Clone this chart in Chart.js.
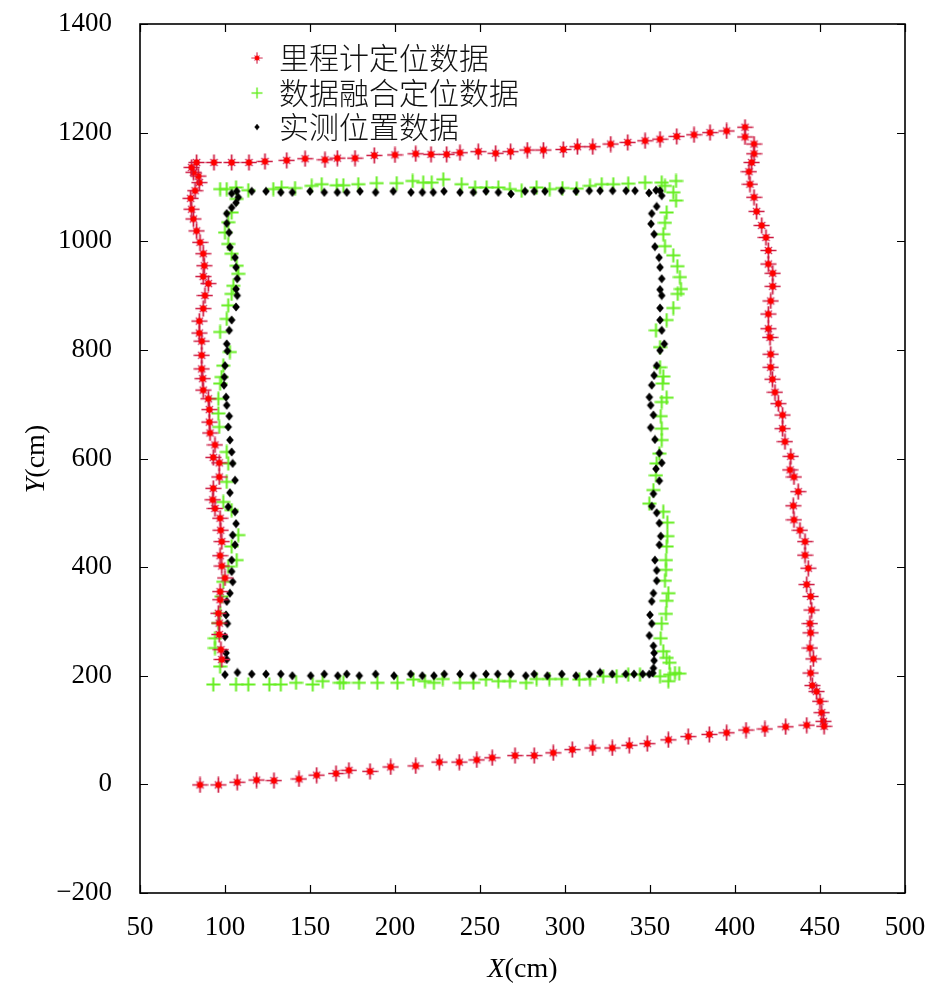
<!DOCTYPE html>
<html>
<head>
<meta charset="utf-8">
<script src="https://cdn.jsdelivr.net/npm/chart.js@4.4.1/dist/chart.umd.min.js"></script>
<style>
html,body{margin:0;padding:0;background:#fff;}
#wrap{width:946px;height:992px;position:relative;}
</style>
</head>
<body>
<div id="wrap"><canvas id="c"></canvas></div>
<script>
// ---- data (cm) ----
const seriesLabels = ['里程计定位数据', '数据融合定位数据', '实测位置数据'];
const xTicks = [50,100,150,200,250,300,350,400,450,500];
const yTicks = [-200,0,200,400,600,800,1000,1200,1400];

const redX = [98.1,97.6,96.6,96.6,96.1,97.1,97.1,100,98.1,97.1,98.1,97.5,97.1,94.1,92.8,93.1,96.6,96.6,93.1,94.1,91.2,90.8,
  90.8,90.2,87.2,86.9,86.3,86.3,86.3,84.9,84.9,87.2,88.2,90.2,87.2,87.8,87.2,85.3,83.3,81.4,80.4,79.8,82.4,84.9,84.3,81.4,80.4,
  83.3,93.5,103.9,114.1,123.5,136.3,147.1,158.8,166.1,176.5,187.8,200,212.2,221.2,230.4,238.2,249,259.2,268,277.8,287.3,299,307.3,316.3,326.9,336.9,347.1,355.9,365.7,375.9,385.3,395.1,405.9,405.9,
  411.2,411.2,409.8,408.2,408.8,411.2,412.7,415.7,418.2,419.6,419.6,422.2,422.2,421,419.6,419.6,420.6,
  421,421,422,423.5,425.5,428,428,429.4,432.8,432.4,434.7,437.2,434.3,434.7,438.2,441.2,441.2,443.1,442.2,444.5,445.1,444.1,444.5,444.1,446.1,444.5,445.5,448,450,451,452,452.4,
  442.2,429.8,417.6,406.5,395.1,384.9,372.5,360.8,348.4,337.8,327.8,316.3,304.3,293.1,281.9,270.6,257.2,248.1,237.8,226.1,212.2,197.5,185.3,172.9,165.3,153.9,143.5,128.8,118.6,107.2,96.1,85.3];
const redY = [230,248,276,297,315,340,355,380,402,421,447,468,490,508,524,545,566,592,602,625,647,667,
  690,710,726,747,765,790,816,831,853,876,900,922,935,955,977,998,1019,1041,1059,1079,1093,1108,1120,1127,1136,
  1145,1145,1145,1145,1147,1149,1152,1150,1153,1153,1158,1159,1161,1160,1160,1163,1165,1162,1165,1168,1168,1169,1174,1174,1179,1182,1185,1188,1193,1196,1200,1203,1210,1192,
  1179,1161,1145,1128,1105,1081,1055,1029,1007,983,958,941,917,890,866,839,823,
  792,768,746,722,701,680,655,631,604,579,566,539,513,487,468,447,422,398,368,346,321,296,279,251,231,205,182,171,153,132,116,107,
  109,106,102,100,95,92,88,82,75,72,67,67,64,58,53,53,49,45,41,41,34,32,24,26,20,17,10,7,8,4,-1,-1];

const greenX = [93.1,97.1,94.1,94.1,96.1,97.1,98,99,101.9,106.9,103.9,107.8,103.9,99,101,101.9,101,96.6,
  96.1,96.1,97.1,98,99,102.9,97.1,101,101.9,103.9,104.9,107.8,106.9,103.9,101.9,100,101.9,103.9,106.9,
  97.1,101,106.5,113.7,128.4,133.3,141.2,151,156.9,165.7,169.6,178.4,189.2,201,210.4,216.6,221.6,228.4,239.2,247.1,253.9,260.8,267.6,274.5,283.3,291,298.5,306.9,314.7,321.6,328.4,337.2,347.1,356.9,365.3,
  358.8,363.7,365.3,359.8,358.8,357.8,358.8,363.7,366.1,367.6,368.2,366.3,363.7,359.8,353.5,355.9,
  355.9,357.8,357.5,359.8,356.9,356.3,356.9,356.9,355.5,353.9,353.5,352,349.6,357.8,360.2,360.2,359.8,359.4,359.4,358.8,360.8,359.8,359.4,356.9,356.3,357.8,359.8,361.4,361.8,367.2,364.7,360.8,
  355.9,344.1,337.2,330.4,322.5,314.7,308.4,298.1,290.8,283.3,277.1,267.6,260.8,253.5,246.1,238.2,228.1,222.9,217.6,210.8,201.4,189.6,178.8,169.6,167.6,157.5,151.6,141.8,132.8,126.1,113.7,106.5];
const greenY = [184,217,251,269,297,315,346,373,401,413,438,459,505,520,557,591,612,658,
  683,710,738,750,771,796,833,857,882,903,918,940,955,977,995,1016,1035,1053,1078,
  1096,1096,1099,1094,1096,1099,1098,1102,1105,1103,1103,1105,1107,1107,1111,1108,1108,1114,1105,1099,1099,1099,1096,1093,1099,1096,1098,1097,1102,1105,1105,1106,1108,1108,1111,
  1102,1090,1075,1053,1034,1013,991,974,954,934,912,903,877,855,836,805,
  768,751,738,712,704,678,655,634,609,591,569,542,517,502,482,457,438,413,395,375,352,338,314,296,269,245,233,224,202,204,205,190,
  199,202,202,199,199,194,193,194,194,194,187,190,190,193,187,187,194,187,190,193,187,187,187,187,187,190,184,187,184,184,184,184];

const blackX = [100,101,100.6,100,101.4,100.6,101,102.9,104.5,103.9,103.9,105.9,104.5,106.5,105.9,101.9,102.9,105.9,104.5,103.9,102.9,101.9,
  102.5,101,100.6,99.4,99.6,100,101.4,101,102.5,103.9,106.5,107.2,106.5,107.2,106.5,105.9,102.9,102.4,101,101,103.9,106.5,107.8,103.9,
  106.9,115.7,124.1,132.8,139.6,150,158.4,166.1,171.6,179.4,188.6,199,209.4,216.1,222.5,228.8,238.2,246.1,253.5,260.8,268.2,276.5,281.9,288.2,298,306.5,314.3,320.6,328,335.9,341.2,349.4,353.5,355.9,
  356.9,353.9,351,350.6,352.4,352.9,355.3,355.9,356.9,355.9,356.9,355.9,355.9,356.9,358.4,
  355.9,353.9,352.4,351,349.6,350.4,352,350.4,352.9,355.5,356.9,353.5,355.5,352,351,353.9,355.5,356.3,355.5,352.9,353.9,353.9,352,351,350,351,349.6,352,352.4,352.4,352,351.6,
  349.6,345.7,340.6,335.7,327.8,320.6,314.3,306.5,298.1,289.6,281.9,276.9,268.1,260.4,253.5,246.1,238.2,229,222.9,216.1,209.2,199.4,188.6,179,171.6,166.3,158.4,150.4,139.6,132.8,124.1,115.7,107.3];
const blackY = [202,230,242,272,296,312,337,352,373,392,413,441,459,480,502,511,537,560,591,612,634,658,
  678,698,713,735,750,771,798,811,836,855,879,900,912,931,952,970,989,1016,1033,1051,1062,1071,1081,1088,
  1092,1092,1092,1090,1090,1092,1090,1090,1090,1092,1090,1092,1090,1090,1090,1092,1090,1090,1092,1090,1087,1092,1092,1092,1093,1092,1093,1093,1093,1093,1093,1089,1094,1093,
  1084,1064,1051,1032,1013,990,970,952,931,911,900,877,855,836,811,
  799,771,753,735,713,698,680,657,635,610,592,581,559,535,512,500,481,457,441,413,394,375,352,337,312,296,274,255,242,228,214,205,
  203,203,203,203,203,206,203,200,203,200,203,200,203,203,203,200,203,203,200,200,203,200,203,200,203,200,203,200,200,203,203,203,206];

function pts(xs, ys){ return xs.map((x,i)=>({x:x, y:ys[i]})); }

// ---- marker images ----
function makeStar(){
  const c=document.createElement('canvas'); c.width=17; c.height=17;
  const g=c.getContext('2d');
  g.strokeStyle='#cc1840'; g.lineWidth=1.7;
  g.beginPath(); g.moveTo(8.5,0.5); g.lineTo(8.5,16.5); g.moveTo(0.5,8.5); g.lineTo(16.5,8.5); g.stroke();
  g.strokeStyle='#c8285e'; g.lineWidth=1.2;
  g.beginPath(); g.moveTo(4.8,4.8); g.lineTo(12.2,12.2); g.moveTo(12.2,4.8); g.lineTo(4.8,12.2); g.stroke();
  g.fillStyle='#ff0000'; g.beginPath(); g.arc(8.5,8.5,3.2,0,Math.PI*2); g.fill();
  return c;
}
function makePlus(){
  const c=document.createElement('canvas'); c.width=15; c.height=15;
  const g=c.getContext('2d');
  g.strokeStyle='#66ee22'; g.lineWidth=2;
  g.beginPath(); g.moveTo(7.5,0.5); g.lineTo(7.5,14.5); g.moveTo(0.5,7.5); g.lineTo(14.5,7.5); g.stroke();
  return c;
}
function makeDiamond(){
  const c=document.createElement('canvas'); c.width=10; c.height=10;
  const g=c.getContext('2d');
  g.fillStyle='#000';
  g.beginPath(); g.moveTo(5,0.6); g.lineTo(8.8,5); g.lineTo(5,9.4); g.lineTo(1.2,5); g.closePath(); g.fill();
  return c;
}
const starImg=makeStar(), plusImg=makePlus(), diaImg=makeDiamond();
const markerImgs=[starImg, plusImg, diaImg];
const legendScale=[0.72,0.78,0.7];

const SERIF='"Liberation Serif","Times New Roman",serif';

const framePlugin={
  id:'frame',
  afterDraw(chart){
    const ctx=chart.ctx, a=chart.chartArea, xs=chart.scales.x, ys=chart.scales.y;
    ctx.save();
    ctx.strokeStyle='#000'; ctx.lineWidth=1.2;
    ctx.beginPath();
    xTicks.forEach(v=>{ const p=Math.round(xs.getPixelForValue(v))+0.5;
      ctx.moveTo(p,a.bottom); ctx.lineTo(p,a.bottom-8);
      ctx.moveTo(p,a.top); ctx.lineTo(p,a.top+8); });
    yTicks.forEach(v=>{ const p=Math.round(ys.getPixelForValue(v))+0.5;
      ctx.moveTo(a.left,p); ctx.lineTo(a.left+8,p);
      ctx.moveTo(a.right,p); ctx.lineTo(a.right-8,p); });
    ctx.stroke();
    ctx.lineWidth=1.6;
    ctx.strokeRect(a.left,a.top,a.right-a.left,a.bottom-a.top);

    // legend
    ctx.font='300 30px "Noto Sans CJK SC"';
    ctx.fillStyle='#111'; ctx.textBaseline='middle'; ctx.textAlign='left';
    const rows=[58,93,127];
    seriesLabels.forEach((t,i)=>{
      const img=markerImgs[i], w=img.width*legendScale[i], h=img.height*legendScale[i];
      ctx.drawImage(img, 257-w/2, rows[i]-h/2, w, h);
      ctx.fillText(t, 279, rows[i]);
    });

    // axis titles
    function mixed(cx, cy, rot, letter){
      ctx.save(); ctx.translate(cx,cy); ctx.rotate(rot);
      ctx.textBaseline='middle'; ctx.fillStyle='#000';
      const fi='italic 28px '+SERIF, fn='28px '+SERIF;
      ctx.font=fi; const w1=ctx.measureText(letter).width;
      ctx.font=fn; const w2=ctx.measureText('(cm)').width;
      const x0=-(w1+w2)/2;
      ctx.font=fi; ctx.textAlign='left'; ctx.fillText(letter,x0,0);
      ctx.font=fn; ctx.fillText('(cm)',x0+w1,0);
      ctx.restore();
    }
    mixed((a.left+a.right)/2, 970, 0, 'X');
    mixed(37, 459, -Math.PI/2, 'Y');
    ctx.restore();
  }
};

new Chart(document.getElementById('c'),{
  type:'scatter',
  data:{datasets:[
    {label:seriesLabels[0], data:pts(redX,redY), pointStyle:starImg, order:0},
    {label:seriesLabels[1], data:pts(greenX,greenY), pointStyle:plusImg, order:2},
    {label:seriesLabels[2], data:pts(blackX,blackY), pointStyle:diaImg, order:1}
  ]},
  options:{
    responsive:true, maintainAspectRatio:false, animation:false,
    layout:{padding:{left:0,right:41,top:24,bottom:0}},
    plugins:{legend:{display:false}, tooltip:{enabled:false}},
    elements:{point:{radius:6, hoverRadius:6}},
    scales:{
      x:{type:'linear', min:50, max:500,
        afterFit(s){ s.height=99; s.paddingLeft=0; s.paddingRight=0; s.paddingTop=0; s.paddingBottom=0; },
        afterBuildTicks(s){ s.ticks=xTicks.map(v=>({value:v})); },
        grid:{drawOnChartArea:false, drawTicks:false},
        border:{display:false},
        ticks:{font:{family:SERIF,size:27}, color:'#000', padding:19, maxRotation:0, autoSkip:false}
      },
      y:{type:'linear', min:-200, max:1400,
        afterFit(s){ s.width=140; s.paddingLeft=0; s.paddingRight=0; s.paddingTop=0; s.paddingBottom=0; },
        afterBuildTicks(s){ s.ticks=yTicks.map(v=>({value:v})); },
        grid:{drawOnChartArea:false, drawTicks:false},
        border:{display:false},
        ticks:{font:{family:SERIF,size:27}, color:'#000', padding:28, autoSkip:false,
          callback:(v)=>String(v).replace('-','\u2212')}
      }
    }
  },
  plugins:[framePlugin]
});
</script>
</body>
</html>
